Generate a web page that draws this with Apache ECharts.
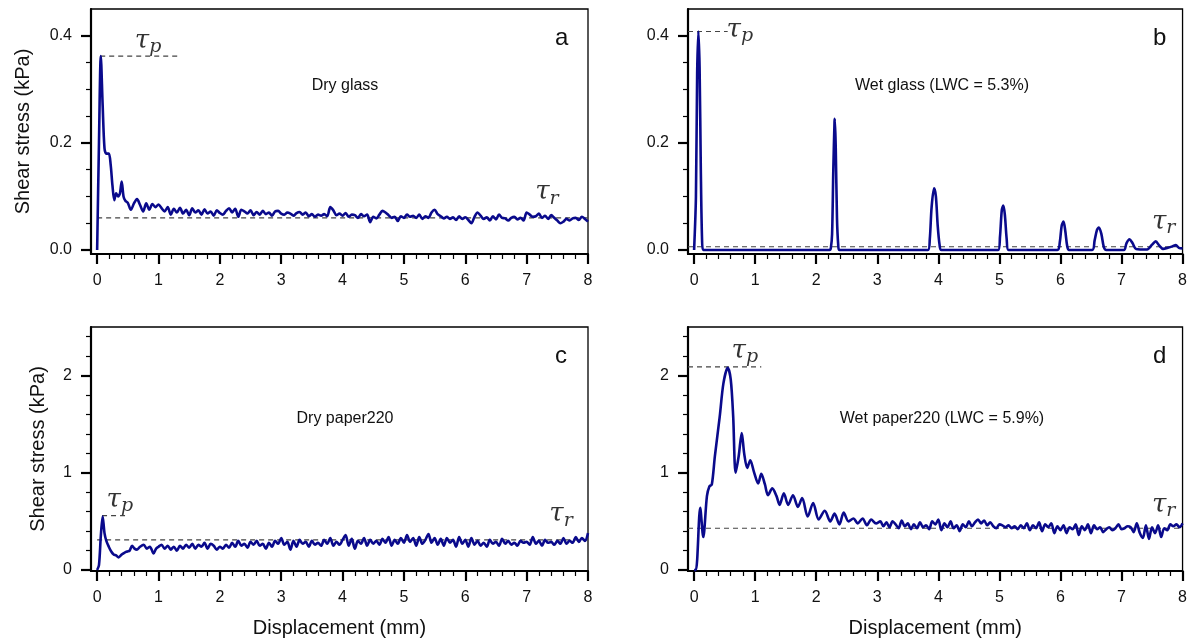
<!DOCTYPE html>
<html>
<head>
<meta charset="utf-8">
<script src="https://cdn.jsdelivr.net/npm/echarts@6/dist/echarts.min.js"></script>
<style>html,body{margin:0;padding:0;background:#fff}#c{width:1190px;height:643px}</style>
</head>
<body>
<div id="c"></div>
<script>
// ---------- data ----------
function grid(start, n, step) { var a = []; for (var i = 0; i < n; i++) a.push(+(start + i * step).toFixed(3)); return a; }

// Panel a: dry glass
var dispA = [0, 0.03, 0.06, 0.09, 0.12, 0.15, 0.19, 0.22, 0.25, 0.28, 0.31, 0.34, 0.37, 0.4, 0.43, 0.46, 0.5, 0.55, 0.6, 0.65, 0.7, 0.75, 0.8, 0.85, 0.9, 0.95, 1.0].concat(grid(1.05, 140, 0.05));
var stressA = [0, 0.2, 0.362, 0.27, 0.19, 0.18, 0.18, 0.16, 0.12, 0.093, 0.106, 0.1, 0.105, 0.128, 0.1, 0.092, 0.088, 0.075, 0.087, 0.095, 0.084, 0.072, 0.087, 0.075, 0.086, 0.08, 0.085,
  0.078,0.072,0.08,0.066,0.077,0.07,0.079,0.068,0.075,0.065,0.078,0.07,0.074,0.066,0.076,0.068,0.072,0.064,0.074,0.069,
  0.066,0.073,0.078,0.07,0.077,0.062,0.075,0.072,0.068,0.074,0.065,0.071,0.066,0.073,0.067,0.07,0.064,0.072,0.073,0.068,
  0.066,0.07,0.068,0.064,0.069,0.071,0.066,0.07,0.063,0.067,0.062,0.066,0.064,0.067,0.063,0.08,0.074,0.065,0.068,0.064,
  0.069,0.062,0.066,0.065,0.06,0.067,0.063,0.066,0.052,0.062,0.059,0.066,0.073,0.07,0.065,0.06,0.062,0.054,0.063,0.06,
  0.066,0.062,0.064,0.06,0.066,0.058,0.063,0.06,0.07,0.075,0.067,0.063,0.059,0.062,0.058,0.061,0.056,0.063,0.058,0.061,
  0.056,0.05,0.062,0.07,0.064,0.058,0.061,0.055,0.063,0.057,0.066,0.06,0.059,0.055,0.06,0.062,0.057,0.06,0.055,0.07,
  0.066,0.062,0.063,0.068,0.06,0.064,0.058,0.065,0.06,0.055,0.05,0.053,0.058,0.055,0.059,0.06,0.056,0.062,0.058,0.053];

// Panel b: wet glass
var dispB = [0, 0.01, 0.03, 0.05, 0.07, 0.09, 0.11, 0.13, 0.15, 2.22, 2.24, 2.26, 2.28, 2.3, 2.305, 2.32, 2.34, 2.36, 2.38, 3.83, 3.86, 3.89, 3.93, 3.96, 3.99, 4.02, 4.05, 4.98, 5.01, 5.04, 5.065, 5.09, 5.12, 5.15, 5.95, 5.99, 6.02, 6.05, 6.08, 6.11, 6.14, 6.52, 6.56, 6.6, 6.63, 6.67, 6.71, 6.75, 7.04, 7.08, 7.13, 7.18, 7.24, 7.42, 7.5, 7.56, 7.62, 7.68, 7.76, 7.84, 7.89, 7.94, 8.0];
var stressB = [0, 0, 0.1, 0.33, 0.408, 0.34, 0.15, 0.02, 0, 0, 0.004, 0.03, 0.15, 0.24, 0.245, 0.19, 0.06, 0.01, 0, 0, 0.02, 0.08, 0.115, 0.1, 0.045, 0.01, 0, 0, 0.025, 0.075, 0.083, 0.065, 0.02, 0, 0, 0.015, 0.045, 0.053, 0.035, 0.008, 0, 0, 0.018, 0.038, 0.042, 0.03, 0.006, 0, 0, 0.012, 0.02, 0.013, 0.002, 0.001, 0.01, 0.016, 0.008, 0.002, 0.004, 0.007, 0.009, 0.004, 0.003];

// Panel c: dry paper220
var dispC = [0, 0.03, 0.06, 0.09, 0.12, 0.15, 0.19, 0.23, 0.27, 0.31, 0.35, 0.4, 0.45, 0.49, 0.53, 0.57, 0.61, 0.65, 0.7, 0.76, 0.81, 0.86, 0.92, 0.96].concat(grid(1.0, 141, 0.05));
var stressC = [0, 0.05, 0.35, 0.55, 0.38, 0.3, 0.24, 0.19, 0.16, 0.15, 0.13, 0.16, 0.18, 0.19, 0.2, 0.25, 0.22, 0.21, 0.24, 0.26, 0.22, 0.24, 0.17, 0.22,
  0.24,0.26,0.22,0.25,0.21,0.24,0.2,0.25,0.22,0.26,0.23,0.27,0.22,0.26,0.24,0.28,0.22,0.27,0.25,0.21,0.24,
  0.22,0.26,0.23,0.28,0.24,0.3,0.25,0.27,0.23,0.29,0.26,0.3,0.25,0.27,0.22,0.28,0.24,0.3,0.27,0.33,
  0.26,0.29,0.21,0.3,0.24,0.31,0.27,0.29,0.24,0.3,0.26,0.28,0.25,0.31,0.27,0.33,0.25,0.29,0.26,0.31,
  0.36,0.25,0.32,0.22,0.3,0.27,0.33,0.25,0.31,0.27,0.3,0.26,0.32,0.28,0.34,0.25,0.31,0.27,0.33,0.28,
  0.36,0.29,0.33,0.25,0.34,0.27,0.31,0.37,0.28,0.33,0.26,0.32,0.25,0.33,0.28,0.31,0.24,0.34,0.27,0.31,
  0.24,0.33,0.26,0.3,0.25,0.28,0.24,0.31,0.27,0.29,0.25,0.32,0.27,0.3,0.26,0.28,0.25,0.3,0.28,0.29,
  0.26,0.34,0.27,0.3,0.25,0.31,0.28,0.29,0.26,0.3,0.27,0.33,0.27,0.3,0.28,0.34,0.29,0.33,0.3,0.38];

// Panel d: wet paper220
var dispD = [0, 0.03, 0.1, 0.15, 0.21, 0.25, 0.29, 0.34, 0.42, 0.48, 0.55, 0.6, 0.64, 0.68, 0.73, 0.78, 0.82, 0.87, 0.92, 0.98, 1.05, 1.1, 1.16, 1.21, 1.28, 1.35, 1.4, 1.47, 1.54, 1.62, 1.7, 1.77, 1.86, 1.95, 2.04, 2.14, 2.23, 2.3, 2.38, 2.45, 2.53, 2.61, 2.68, 2.76, 2.83, 2.9, 2.98].concat(grid(3.05, 100, 0.05));
var stressD = [0, 0, 0.64, 0.34, 0.76, 0.86, 0.88, 1.17, 1.58, 1.92, 2.08, 1.96, 1.58, 1.0, 1.17, 1.41, 1.2, 1.05, 1.13, 1.01, 0.89, 0.99, 0.88, 0.77, 0.84, 0.76, 0.67, 0.79, 0.67, 0.77, 0.65, 0.74, 0.55, 0.69, 0.52, 0.61, 0.5, 0.58, 0.47, 0.59, 0.5, 0.53, 0.48, 0.53, 0.46, 0.52, 0.48,
  0.5,0.45,0.49,0.44,0.5,0.47,0.43,0.51,0.45,0.48,0.42,0.47,0.43,0.49,0.44,0.46,0.42,0.5,0.47,0.52,
  0.41,0.48,0.44,0.5,0.43,0.46,0.4,0.47,0.44,0.5,0.45,0.49,0.52,0.48,0.51,0.46,0.49,0.45,0.43,0.47,
  0.46,0.44,0.46,0.43,0.45,0.42,0.46,0.43,0.48,0.41,0.46,0.43,0.49,0.4,0.47,0.44,0.48,0.38,0.45,0.41,
  0.46,0.38,0.44,0.42,0.47,0.36,0.45,0.41,0.47,0.38,0.46,0.42,0.44,0.39,0.42,0.44,0.41,0.43,0.47,0.42,
  0.43,0.45,0.44,0.39,0.48,0.38,0.33,0.46,0.32,0.44,0.38,0.46,0.34,0.43,0.41,0.47,0.45,0.47,0.44,0.48];

// peak / residual reference levels and their dashed extents [x0, x1, level]
var tauPLines = [[0.05, 1.35, 0.362], [-0.1, 0.55, 0.408], [0.08, 0.49, 0.56], [-0.1, 1.1, 2.09]];
var tauRLines = [[0, 8, 0.06], [-0.1, 8, 0.006], [0, 8, 0.31], [-0.1, 8, 0.43]];
var tauPLabelPos = [[0.83, 0.39], [0.75, 0.41], [0.37, 0.72], [0.83, 2.25]];
var tauRLabelPos = [[7.33, 0.107], [7.69, 0.052], [7.56, 0.57], [7.69, 0.67]];

// axes tick labels
var xMajor = [0, 1, 2, 3, 4, 5, 6, 7, 8];
var xMinor = [0.2,0.4,0.6,0.8,1.2,1.4,1.6,1.8,2.2,2.4,2.6,2.8,3.2,3.4,3.6,3.8,4.2,4.4,4.6,4.8,5.2,5.4,5.6,5.8,6.2,6.4,6.6,6.8,7.2,7.4,7.6,7.8];
var yMajorGlass = [0, 0.2, 0.4];
var yMinorGlass = [0.05, 0.1, 0.15, 0.25, 0.3, 0.35];
var yMajorPaper = [0, 1, 2];
var yMinorPaper = [0.2, 0.4, 0.6, 0.8, 1.2, 1.4, 1.6, 1.8, 2.2, 2.4];

var panelLetters = ['a', 'b', 'c', 'd'];
var panelTitles = ['Dry glass', 'Wet glass (LWC = 5.3%)', 'Dry paper220', 'Wet paper220 (LWC = 5.9%)'];
var yTitle = 'Shear stress (kPa)';
var xTitle = 'Displacement (mm)';

// ---------- chart ----------
var FONT = '"Liberation Sans", Arial, sans-serif';
var LINE = '#0a0a8c';
var disps = [dispA, dispB, dispC, dispD];
var stresses = [stressA, stressB, stressC, stressD];
var grids = [
  {left: 91, top: 9, width: 497, height: 245},
  {left: 688, top: 9, width: 497, height: 245},
  {left: 91, top: 327, width: 497, height: 244},
  {left: 688, top: 327, width: 497, height: 244}
];
var yRanges = [[-0.0075, 0.45], [-0.0075, 0.45], [-0.01, 2.5], [-0.01, 2.5]];

var option = {animation: false, backgroundColor: '#fff', grid: [], xAxis: [], yAxis: [], series: [], graphic: []};

for (var i = 0; i < 4; i++) {
  var g = grids[i];
  option.grid.push({left: g.left, top: g.top, width: g.width, height: g.height, show: true, borderColor: '#000', borderWidth: 1.3, containLabel: false});
  var glass = i < 2;
  var bottom = i >= 2;
  option.xAxis.push({
    type: 'value', gridIndex: i, position: 'bottom', min: -0.1, max: 8,
    axisLine: {show: true, onZero: false, lineStyle: {color: '#000', width: 2.2}},
    axisTick: {show: true, customValues: xMajor, length: 10, lineStyle: {color: '#000', width: 2.2}},
    axisLabel: {show: true, customValues: xMajor, fontSize: 16, color: '#111', fontFamily: FONT, margin: 19},
    splitLine: {show: false},
    name: bottom ? xTitle : '', nameLocation: 'middle', nameGap: 47,
    nameTextStyle: {fontSize: 20, color: '#111', fontFamily: FONT}
  });
  option.xAxis.push({
    type: 'value', gridIndex: i, position: 'bottom', offset: 0, min: -0.1, max: 8,
    axisLine: {show: false, onZero: false},
    axisTick: {show: true, customValues: xMinor, length: 5, lineStyle: {color: '#000', width: 1.2}},
    axisLabel: {show: false}, splitLine: {show: false}
  });
  option.yAxis.push({
    type: 'value', gridIndex: i, position: 'left', min: yRanges[i][0], max: yRanges[i][1],
    axisLine: {show: true, onZero: false, lineStyle: {color: '#000', width: 2.2}},
    axisTick: {show: true, customValues: glass ? yMajorGlass : yMajorPaper, length: 10, lineStyle: {color: '#000', width: 2.2}},
    axisLabel: {show: true, customValues: glass ? yMajorGlass : yMajorPaper, fontSize: 16, color: '#111', fontFamily: FONT, margin: 19,
      formatter: glass ? function (v) { return v.toFixed(1); } : function (v) { return String(v); }},
    splitLine: {show: false},
    name: (i === 0 || i === 2) ? yTitle : '', nameLocation: 'middle', nameGap: i === 0 ? 58 : 43,
    nameTextStyle: {fontSize: 20, color: '#111', fontFamily: FONT}
  });
  option.yAxis.push({
    type: 'value', gridIndex: i, position: 'left', offset: 0, min: yRanges[i][0], max: yRanges[i][1],
    axisLine: {show: false, onZero: false},
    axisTick: {show: true, customValues: glass ? yMinorGlass : yMinorPaper, length: 5, lineStyle: {color: '#000', width: 1.2}},
    axisLabel: {show: false}, splitLine: {show: false}
  });

  var pts = [];
  for (var k = 0; k < disps[i].length; k++) pts.push([disps[i][k], stresses[i][k]]);
  option.series.push({
    type: 'line', xAxisIndex: 2 * i, yAxisIndex: 2 * i, data: pts, showSymbol: false, symbol: 'none',
    smooth: 0.3, lineStyle: {color: LINE, width: 2.6}, z: 3, silent: true
  });
  var tp = tauPLines[i], tr = tauRLines[i];
  option.series.push({
    type: 'line', xAxisIndex: 2 * i, yAxisIndex: 2 * i, data: [[tp[0], tp[2]], [tp[1], tp[2]]], symbol: 'none',
    lineStyle: {color: '#444', width: 1.2, type: [5, 4]}, z: 2, silent: true
  });
  option.series.push({
    type: 'line', xAxisIndex: 2 * i, yAxisIndex: 2 * i, data: [[tr[0], tr[2]], [tr[1], tr[2]]], symbol: 'none',
    lineStyle: {color: '#444', width: 1.2, type: [5, 4]}, z: 2, silent: true
  });
  var rich = {
    t: {fontFamily: '"DejaVu Serif", serif', fontStyle: 'italic', fontSize: 26, color: '#000', lineHeight: 30},
    s: {fontFamily: '"DejaVu Serif", serif', fontStyle: 'italic', fontSize: 19, color: '#000', lineHeight: 30, padding: [12, 0, 0, 0]}
  };
  option.series.push({
    type: 'scatter', xAxisIndex: 2 * i, yAxisIndex: 2 * i, symbolSize: 1, itemStyle: {color: 'rgba(0,0,0,0)'}, silent: true,
    data: [
      {value: tauPLabelPos[i], label: {formatter: '{t|τ}{s|p}'}},
      {value: tauRLabelPos[i], label: {formatter: '{t|τ}{s|r}'}}
    ],
    label: {show: true, position: 'inside', rich: rich}
  });

  option.graphic.push({
    type: 'text', left: g.left + (i % 2 === 0 ? 464 : 465), top: g.top + 17,
    style: {text: panelLetters[i], font: '24px ' + FONT, fill: '#111'}
  });
  option.graphic.push({
    type: 'text', x: g.left + 254, y: g.top + (bottom ? 92 : 77),
    style: {text: panelTitles[i], font: '16px ' + FONT, fill: '#111', align: 'center', verticalAlign: 'middle'}
  });
}

var chart = echarts.init(document.getElementById('c'), null, {renderer: 'canvas'});
chart.setOption(option);
</script>
</body>
</html>
